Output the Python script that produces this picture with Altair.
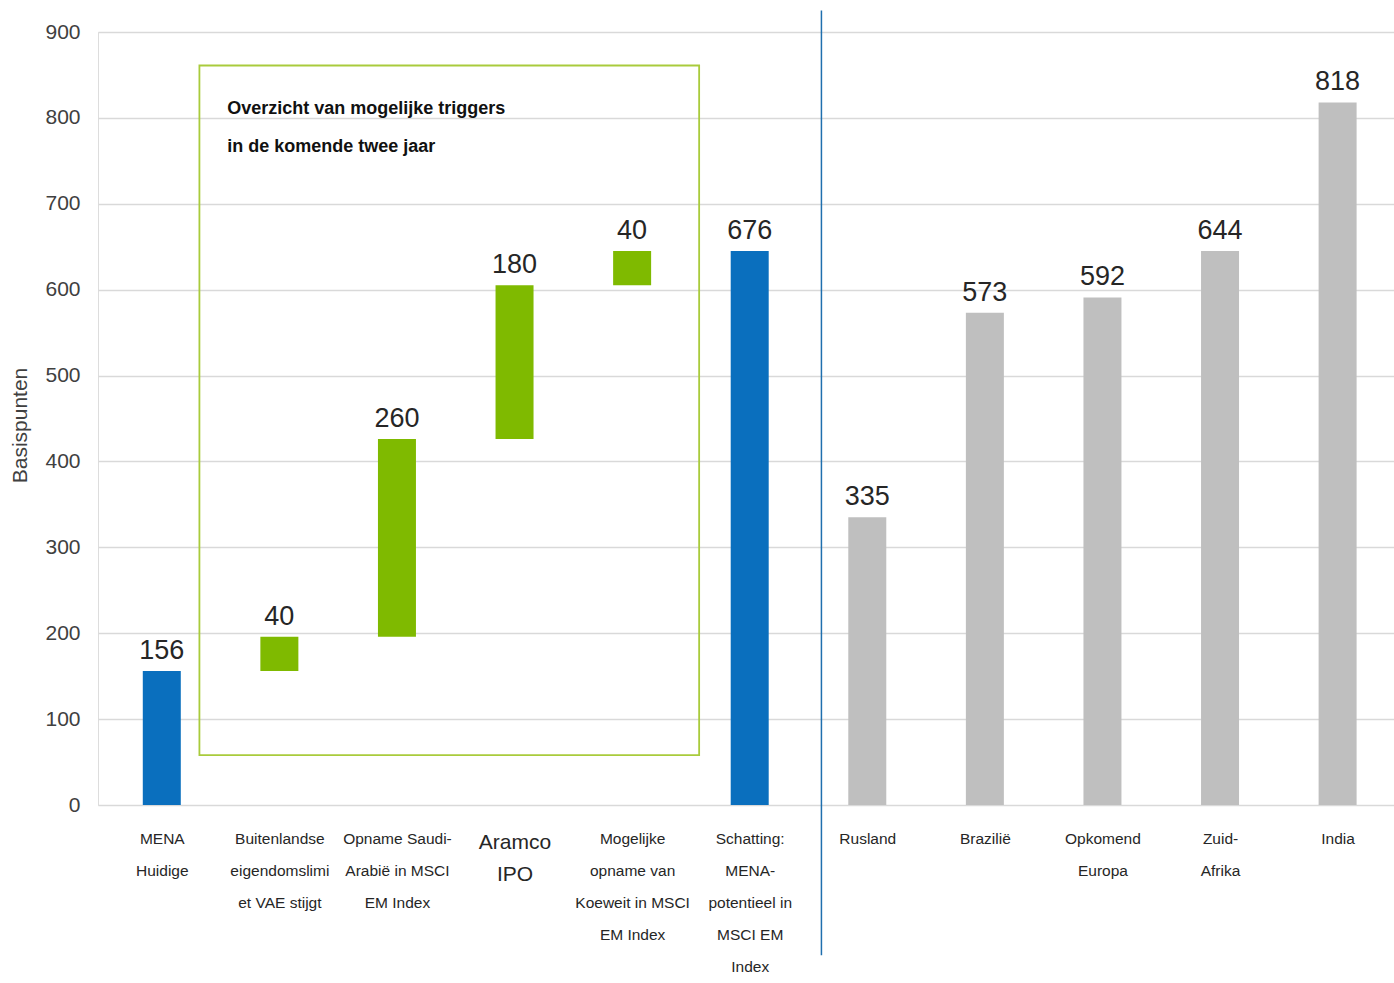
import json
import altair as alt
import pandas as pd

# ---- data ----
categories = [
    "MENA|Huidige",
    "Buitenlandse|eigendomslimi|et VAE stijgt",
    "Opname Saudi-|Arabië in MSCI|EM Index",
    "Aramco|IPO",
    "Mogelijke|opname van|Koeweit in MSCI|EM Index",
    "Schatting:|MENA-|potentieel in|MSCI EM|Index",
    "Rusland",
    "Brazilië",
    "Opkomend|Europa",
    "Zuid-|Afrika",
    "India",
]
bar_start = [0, 156, 196, 426, 605, 0, 0, 0, 0, 0, 0]
bar_end = [156, 196, 426, 605, 645, 645, 335, 573, 591, 645, 818]
value_labels = ["156", "40", "260", "180", "40", "676", "335", "573", "592", "644", "818"]
groups = ["MENA", "trigger", "trigger", "trigger", "trigger", "MENA",
          "peer", "peer", "peer", "peer", "peer"]
y_ticks = [0, 100, 200, 300, 400, 500, 600, 700, 800, 900]

annotation = "Overzicht van mogelijke triggers\nin de komende twee jaar"

group_colors = {"MENA": "#0a6fbe", "trigger": "#7fba00", "peer": "#bfbfbf"}

FONT = "Liberation Sans"

df = pd.DataFrame({
    "x": list(range(len(categories))),
    "y": bar_start,
    "y2": bar_end,
    "label": value_labels,
    "color": [group_colors[g] for g in groups],
})

label_array = "[" + ",".join(json.dumps(c, ensure_ascii=False) for c in categories) + "]"
label_expr = f"split({label_array}[datum.value], '|')"

x_scale = alt.Scale(domain=[-0.5, 10.437], nice=False, zero=False)
y_scale = alt.Scale(domain=[0, 900], nice=False)

bars = alt.Chart(df).mark_bar(size=38).encode(
    x=alt.X("x:Q", scale=x_scale, axis=alt.Axis(
        title=None, values=list(range(len(categories))), labelExpr=label_expr,
        grid=False, domain=False, ticks=False, labelPadding=26,
        labelFont=FONT,
        labelFontSize={"condition": {"test": "datum.value == 3", "value": 21}, "value": 15.5},
        labelLineHeight=32, labelColor="#262626", labelBaseline="top",
        labelOverlap=False, labelFlush=False)),
    y=alt.Y("y:Q", scale=y_scale, axis=alt.Axis(
        title="Basispunten", values=y_ticks, grid=True, gridColor="#d9d9d9",
        gridWidth=1.5, domain=False, ticks=False, labelPadding=18,
        labelFont=FONT, labelFontSize=21, labelColor="#404040",
        titleFont=FONT, titleFontSize=21, titleFontWeight="normal",
        titleColor="#404040", titleX=-78, titleY=393, titleBaseline="middle")),
    y2="y2:Q",
    color=alt.Color("color:N", scale=None),
)

texts = alt.Chart(df).mark_text(
    baseline="bottom", dy=-6, font=FONT, fontSize=27, color="#262626"
).encode(
    x="x:Q",
    y=alt.Y("y2:Q"),
    text="label:N",
)

box_df = pd.DataFrame({"x": [0.32], "x2": [4.57], "y": [58], "y2": [861]})
box = alt.Chart(box_df).mark_rect(
    filled=False, stroke="#a9cb3c", strokeWidth=1.8
).encode(x="x:Q", x2="x2:Q", y="y:Q", y2="y2:Q")

ann_df = pd.DataFrame({"x": [0.557], "y": [821], "t": [annotation]})
ann = alt.Chart(ann_df).mark_text(
    align="left", baseline="top", lineBreak="\n", lineHeight=38,
    font=FONT, fontSize=18, fontWeight="bold", color="#111111"
).encode(x="x:Q", y="y:Q", text="t:N")

rule_df = pd.DataFrame({"x": [5.61], "y": [-175], "y2": [925]})
rule = alt.Chart(rule_df).mark_rule(
    color="#1f6fae", strokeWidth=1.5, clip=False
).encode(x="x:Q", y="y:Q", y2="y2:Q")

chart = alt.layer(box, bars, texts, ann, rule).properties(
    width=1296, height=773,
    autosize=alt.AutoSizeParams(type="none"),
    padding={"left": 98, "top": 32, "right": 0, "bottom": 178},
).configure_view(stroke=None).configure(background="white")

chart.save("out.html", embed_options={"renderer": "svg", "actions": False})
